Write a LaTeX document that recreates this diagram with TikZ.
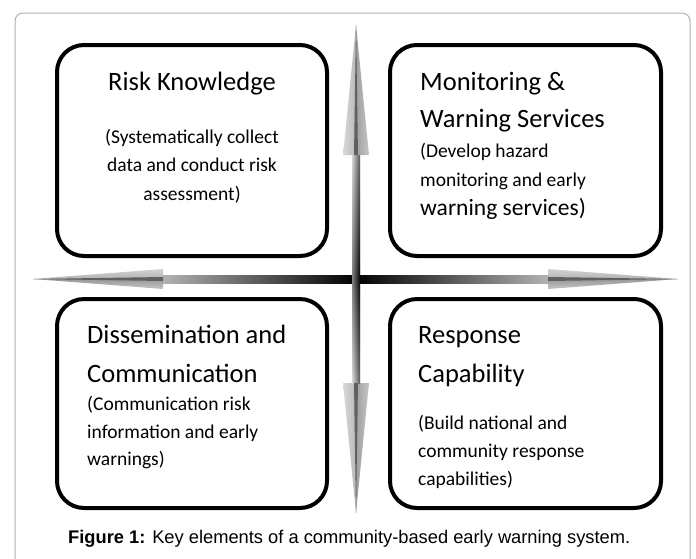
\documentclass[tikz,border=0pt]{standalone}
\usepackage{fontspec}
\setmainfont{Carlito}
\newfontfamily\capfont{Liberation Sans}
\begin{document}
\begin{tikzpicture}[x=1pt,y=-1pt]
\tikzset{
  card/.style={draw=black, line width=4pt, rounded corners=27pt, fill=white, inner sep=0pt},
  ttl/.style={font=\fontsize{26.5}{30}\selectfont, inner sep=0pt, anchor=base west},
  ttlc/.style={ttl, anchor=base},
  bdy/.style={font=\fontsize{19.5}{22}\selectfont, inner sep=0pt, anchor=base west},
  bdyc/.style={bdy, anchor=base},
  mid/.style={font=\fontsize{23.5}{26}\selectfont, inner sep=0pt, anchor=base west},
  frame/.style={draw=gray!60, line width=1pt, rounded corners=8pt},
}
\useasboundingbox (0,0) rectangle (696,558);
\fill[white] (0,0) rectangle (696,558);
% outer frame
\draw[frame] (15,560) -- (15,13) -- (690,13) -- (690,560);

% boxes
\node[card, minimum width=270pt, minimum height=211pt] (rk) at (192,150.5) {};
\node[card, minimum width=271pt, minimum height=211pt] (mw) at (525.5,150.5) {};
\node[card, minimum width=270pt, minimum height=209pt] (dc) at (192,403.5) {};
\node[card, minimum width=271pt, minimum height=209pt] (rc) at (525.5,403.5) {};

% horizontal arrow
\coordinate (hl) at (33,279);
\coordinate (hr) at (678,279);
\coordinate (cc) at (356,279);
\shade[top color=gray!35, bottom color=gray!60] (hl) -- (163,269) -- (163,279) -- cycle;
\shade[top color=gray!80, bottom color=gray!45] (hl) -- (163,279) -- (163,289) -- cycle;
\shade[top color=gray!35, bottom color=gray!60] (hr) -- (548,269) -- (548,279) -- cycle;
\shade[top color=gray!80, bottom color=gray!45] (hr) -- (548,279) -- (548,289) -- cycle;
\shade[left color=gray!60, right color=black] (163,275) rectangle (356,283);
\shade[left color=black, right color=gray!60] (356,275) rectangle (548,283);
\fill[gray!75!black] (hl) -- (163,277) -- (163,281) -- cycle;
\fill[gray!75!black] (hr) -- (548,277) -- (548,281) -- cycle;

% vertical arrow
\coordinate (vt) at (356,25);
\coordinate (vb) at (356,513);
\shade[left color=gray!30, right color=gray!55] (vt) -- (343,155) -- (356,155) -- cycle;
\shade[left color=gray!75, right color=gray!45] (vt) -- (356,155) -- (369,155) -- cycle;
\shade[left color=gray!30, right color=gray!55] (vb) -- (343,383) -- (356,383) -- cycle;
\shade[left color=gray!75, right color=gray!45] (vb) -- (356,383) -- (369,383) -- cycle;
\shade[top color=gray!60, bottom color=black] (352,155) rectangle (360,279);
\shade[top color=black, bottom color=gray!60] (352,279) rectangle (360,383);
\shade[left color=white, right color=black, opacity=0.5] (352,155) rectangle (360,383);
\fill[gray!75!black] (vt) -- (354,155) -- (358,155) -- cycle;
\fill[gray!75!black] (vb) -- (354,383) -- (358,383) -- cycle;

% texts: Risk Knowledge
\node[ttlc] (rk1) at (192,90) {Risk Knowledge};
\node[bdyc] (rk2) at (192,143) {(Systematically collect};
\node[bdyc] (rk3) at (192,171.5) {data and conduct risk};
\node[bdyc] (rk4) at (192,200) {assessment)};

% Monitoring
\node[ttl] (mw1) at (420,90) {Monitoring \&};
\node[ttl] (mw2) at (420,127) {Warning Services};
\node[bdy] (mw3) at (420,157) {(Develop hazard};
\node[bdy] (mw4) at (420,186) {monitoring and early};
\node[mid] (mw5) at (420,215) {warning services)};

% Dissemination
\node[ttl] (dc1) at (87,343) {Dissemination and};
\node[ttl] (dc2) at (87,382) {Communication};
\node[bdy] (dc3) at (87,410) {(Communication risk};
\node[bdy] (dc4) at (87,438) {information and early};
\node[bdy] (dc5) at (87,465) {warnings)};

% Response
\node[ttl] (rc1) at (418,343) {Response};
\node[ttl] (rc2) at (418,382) {Capability};
\node[bdy] (rc3) at (418,429) {(Build national and};
\node[bdy] (rc4) at (418,457) {community response};
\node[bdy] (rc5) at (418,485) {capabilities)};

% caption
\node[font=\capfont\fontsize{18.3}{21}\selectfont, anchor=base west, inner sep=0pt] (cap) at (68,543)
  {\textbf{Figure 1:} Key elements of a community-based early warning system.};
\end{tikzpicture}
\end{document}
